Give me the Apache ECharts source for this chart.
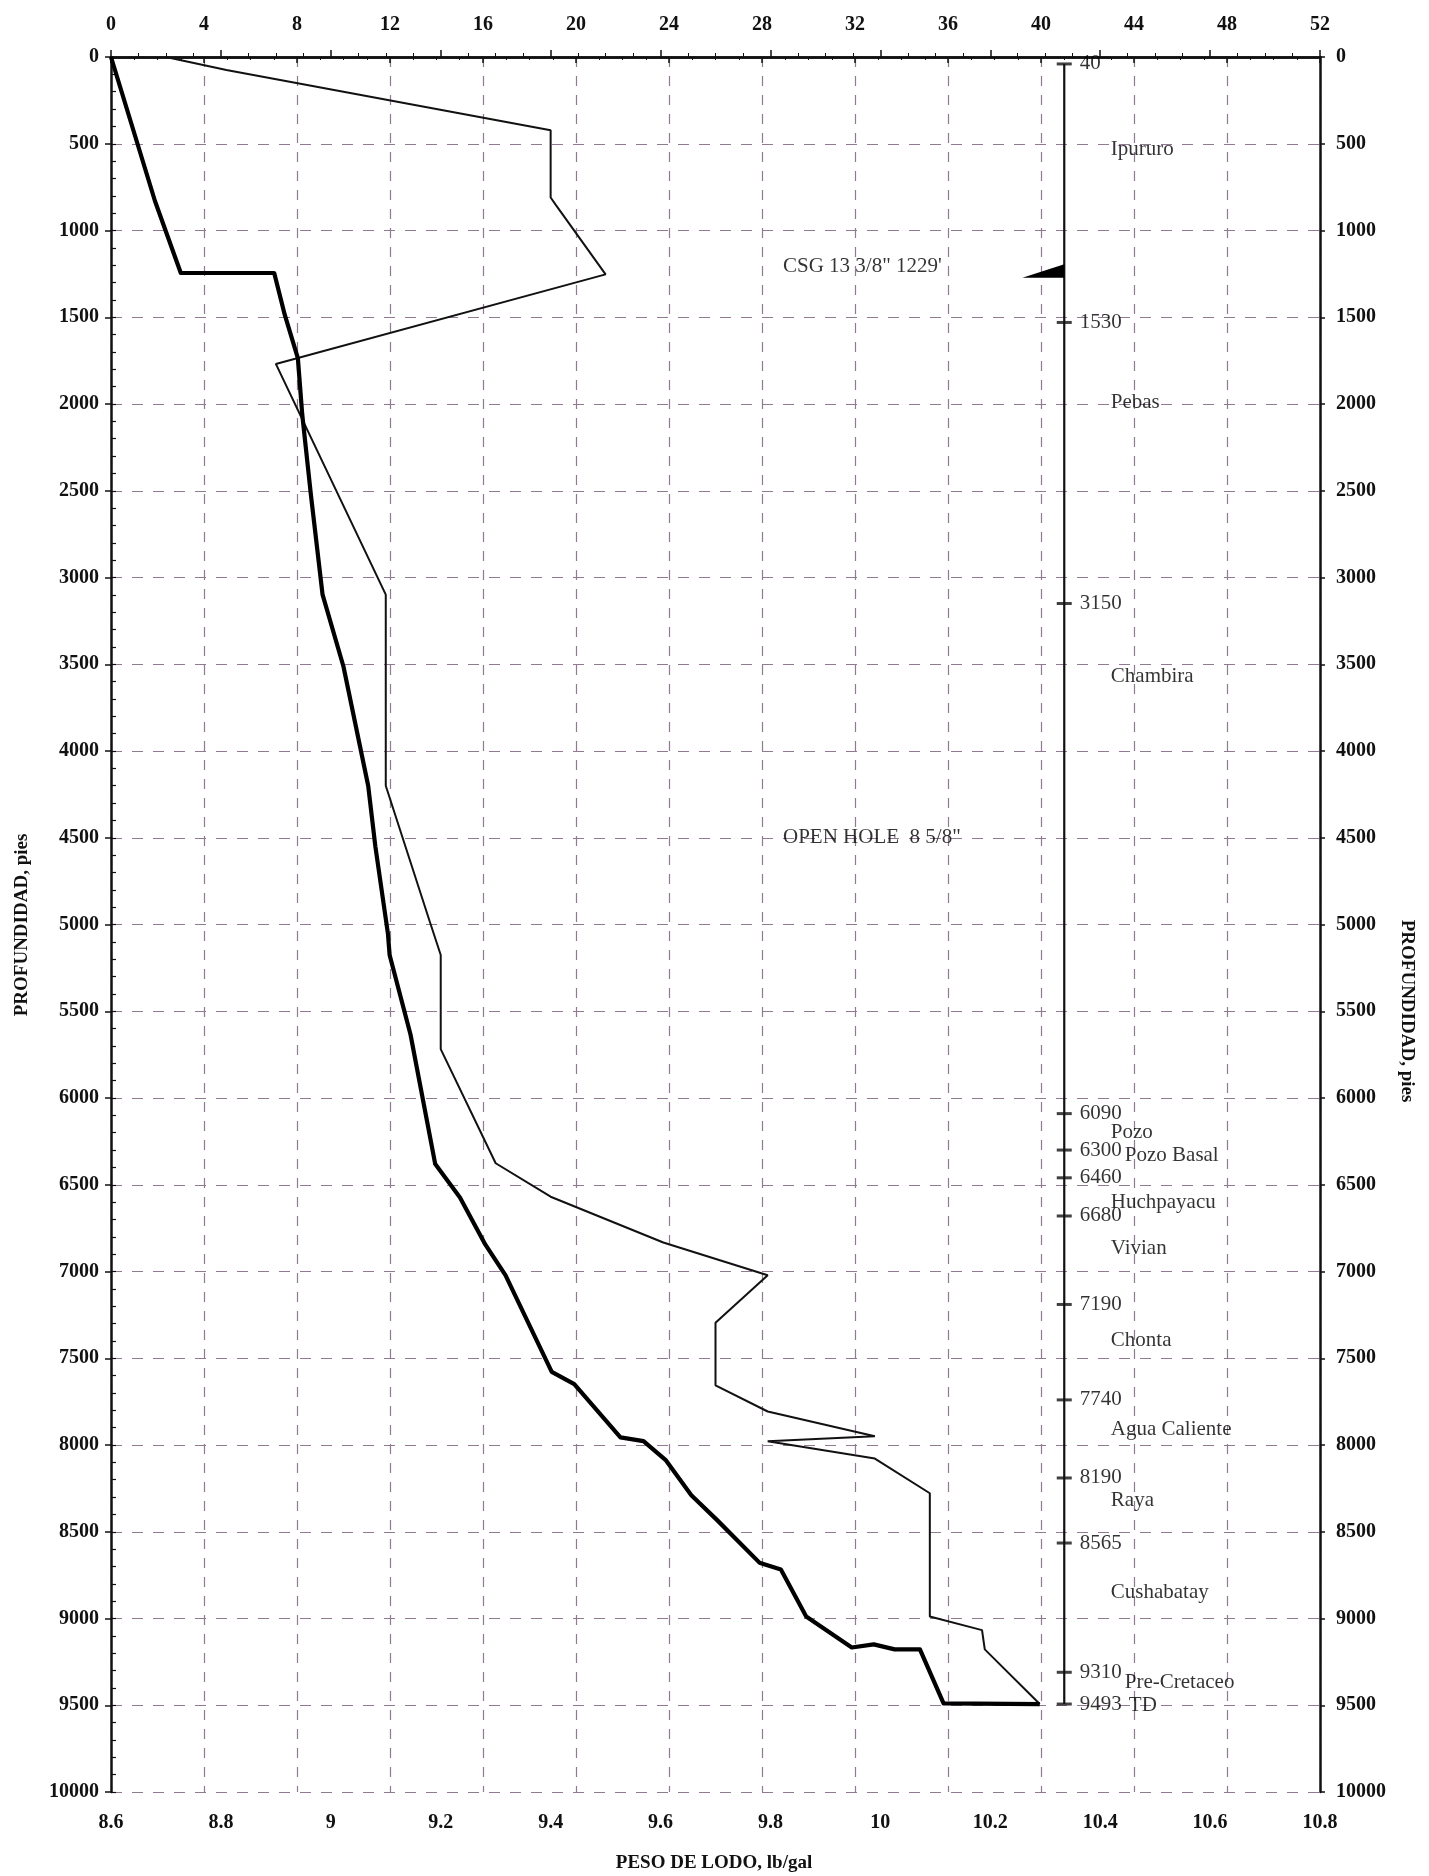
<!DOCTYPE html>
<html>
<head>
<meta charset="utf-8">
<script src="https://cdn.jsdelivr.net/npm/echarts@6/dist/echarts.min.js"></script>
<style>
  html, body { margin: 0; padding: 0; background: #ffffff; }
  #chart { width: 1429px; height: 1876px; }
</style>
</head>
<body>
<div id="chart"></div>
<script>
// ---------------- DATA ----------------
// Axis tick labels
const depthTicks = [0, 500, 1000, 1500, 2000, 2500, 3000, 3500, 4000, 4500, 5000,
                    5500, 6000, 6500, 7000, 7500, 8000, 8500, 9000, 9500, 10000];
const mudWeightTicks = [8.6, 8.8, 9.0, 9.2, 9.4, 9.6, 9.8, 10.0, 10.2, 10.4, 10.6, 10.8];
const topScaleTicks = [0, 4, 8, 12, 16, 20, 24, 28, 32, 36, 40, 44, 48, 52];

// Heavy line (lb/gal vs depth, ft)
const heavyDepth = [0, 830, 1245, 1245, 1484, 1735, 2061, 2530, 3099, 3513, 4200, 4549,
                    5055, 5176, 5634, 6381, 6573, 6844, 7022, 7578, 7649, 7956, 7978,
                    8089, 8289, 8433, 8678, 8718, 8989, 9167, 9149, 9178, 9178, 9489, 9493];
const heavyWeight = [8.60, 8.68, 8.727, 8.897, 8.916, 8.94, 8.948, 8.964, 8.985, 9.023, 9.068, 9.081,
                     9.104, 9.107, 9.145, 9.19, 9.235, 9.281, 9.318, 9.402, 9.443, 9.527, 9.569,
                     9.61, 9.656, 9.703, 9.78, 9.819, 9.865, 9.948, 9.988, 10.026, 10.072, 10.115, 10.29];

// Thin line (lb/gal vs depth, ft)
const thinDepth = [0, 75, 422, 810, 855, 1253, 1769, 3099, 4200, 4983, 5176, 5718, 6376,
                   6569, 6833, 7022, 7296, 7656, 7807, 7949, 7978, 8078, 8278, 8989,
                   9067, 9178, 9493];
const thinWeight = [8.70, 8.81, 9.40, 9.40, 9.41, 9.50, 8.90, 9.10, 9.10, 9.18, 9.20, 9.20, 9.30,
                    9.40, 9.605, 9.795, 9.70, 9.70, 9.795, 9.99, 9.795, 9.99, 10.09, 10.09,
                    10.185, 10.19, 10.29];

// Formation tops (ft) shown on the stratigraphic track
const formationTops = [40, 1530, 3150, 6090, 6300, 6460, 6680, 7190, 7740, 8190, 8565, 9310, 9493];
// Formation names and the depth at which each name is written
const formationNames = ["Ipururo", "Pebas", "Chambira", "Pozo", "Pozo Basal", "Huchpayacu",
                        "Vivian", "Chonta", "Agua Caliente", "Raya", "Cushabatay",
                        "Pre-Cretaceo", "TD"];
const formationNameDepths = [535, 1990, 3570, 6200, 6330, 6600, 6865, 7395, 7912, 8318,
                             8848, 9370, 9500];

// Casing shoe triangle (top-scale units, depth ft)
const casingShoe = [[41, 1195], [41, 1272], [39.2, 1272]];

// Text notes (top-scale units, depth ft)
const noteTexts = ["CSG 13 3/8\" 1229'", "OPEN HOLE  8 5/8\""];
const noteDepths = [1205, 4500];

// ---------------- LAYOUT CONSTANTS ----------------
const TRACK_X = 41;
const NAME_X = 43.0;
const NOTE_X = 28.9;
const SERIF = "'Liberation Serif', 'DejaVu Serif', serif";
const INK = '#111111';
const GRID_COLOR = '#8f7a92';

const chart = echarts.init(document.getElementById('chart'), null, { renderer: 'canvas' });

const axisLabelStyle = { fontFamily: SERIF, fontWeight: 'bold', fontSize: 20, color: INK };
const depthFmt = v => String(v);

const shiftedNames = { 'Pozo Basal': 14, 'Pre-Cretaceo': 14, 'TD': 18 };

const option = {
  backgroundColor: '#ffffff',
  animation: false,
  grid: { left: 111, right: 109, top: 57, bottom: 84, containLabel: false },
  xAxis: [
    {
      type: 'value', position: 'bottom',
      min: mudWeightTicks[0], max: mudWeightTicks[mudWeightTicks.length - 1],
      interval: 0.2,
      axisLine: { show: true, lineStyle: { color: INK, width: 2.5 } },
      axisTick: { show: true, inside: true, length: 7, lineStyle: { color: INK, width: 1.5 } },
      minorTick: { show: true, splitNumber: 4, length: 4, lineStyle: { color: INK, width: 1 } },
      splitLine: { show: false },
      axisLabel: Object.assign({}, axisLabelStyle, {
        margin: 21,
        formatter: v => String(+v.toFixed(1))
      })
    },
    {
      type: 'value', position: 'top',
      min: topScaleTicks[0], max: topScaleTicks[topScaleTicks.length - 1],
      interval: 4,
      axisLine: { show: true, lineStyle: { color: INK, width: 2.5 } },
      axisTick: { show: true, inside: true, length: 6, lineStyle: { color: INK, width: 1.5 } },
      minorTick: { show: true, splitNumber: 4, length: 3, lineStyle: { color: INK, width: 1 } },
      splitLine: { show: true, lineStyle: { color: GRID_COLOR, type: [10, 9], width: 1.2 } },
      axisLabel: Object.assign({}, axisLabelStyle, { margin: 22 })
    }
  ],
  yAxis: [
    {
      type: 'value', position: 'left', inverse: true,
      min: depthTicks[0], max: depthTicks[depthTicks.length - 1], interval: 500,
      axisLine: { show: true, lineStyle: { color: INK, width: 2.5 } },
      axisTick: { show: true, inside: false, length: 6, lineStyle: { color: INK, width: 1.5 } },
      splitLine: { show: true, lineStyle: { color: GRID_COLOR, type: [11, 10], width: 1.2 } },
      axisLabel: Object.assign({}, axisLabelStyle, { margin: 12, formatter: depthFmt })
    },
    {
      type: 'value', position: 'right', inverse: true,
      min: depthTicks[0], max: depthTicks[depthTicks.length - 1], interval: 500,
      axisLine: { show: true, onZero: false, lineStyle: { color: INK, width: 2.5 } },
      axisTick: { show: true, inside: false, length: 5, lineStyle: { color: INK, width: 1.5 } },
      splitLine: { show: false },
      axisLabel: Object.assign({}, axisLabelStyle, { margin: 16, formatter: depthFmt })
    },
    {
      type: 'value', position: 'left', inverse: true,
      min: depthTicks[0], max: depthTicks[depthTicks.length - 1], interval: 100,
      axisLine: { show: false },
      axisTick: { show: true, inside: true, length: 5, lineStyle: { color: INK, width: 1.2 } },
      splitLine: { show: false },
      axisLabel: { show: false }
    }
  ],
  graphic: [
    {
      type: 'text', x: 22, y: 925, rotation: Math.PI / 2,
      style: { text: 'PROFUNDIDAD, pies', font: 'bold 19px ' + SERIF, fill: INK,
               textAlign: 'center', textVerticalAlign: 'middle', align: 'center', verticalAlign: 'middle' }
    },
    {
      type: 'text', x: 1407, y: 1011, rotation: -Math.PI / 2,
      style: { text: 'PROFUNDIDAD, pies', font: 'bold 19px ' + SERIF, fill: INK,
               textAlign: 'center', textVerticalAlign: 'middle', align: 'center', verticalAlign: 'middle' }
    },
    {
      type: 'text', x: 714, y: 1863,
      style: { text: 'PESO DE LODO, lb/gal', font: 'bold 19px ' + SERIF, fill: INK,
               textAlign: 'center', textVerticalAlign: 'middle', align: 'center', verticalAlign: 'middle' }
    }
  ],
  series: [
    {
      name: 'thin', type: 'line', xAxisIndex: 0, yAxisIndex: 0,
      data: thinDepth.map((d, i) => [thinWeight[i], d]),
      showSymbol: false, silent: true, z: 5,
      lineStyle: { color: INK, width: 2 }
    },
    {
      name: 'heavy', type: 'line', xAxisIndex: 0, yAxisIndex: 0,
      data: heavyDepth.map((d, i) => [heavyWeight[i], d]),
      showSymbol: false, silent: true, z: 6,
      lineStyle: { color: '#000', width: 4.2, join: 'round' }
    },
    {
      name: 'track', type: 'line', xAxisIndex: 1, yAxisIndex: 0,
      data: [[TRACK_X, formationTops[0]], [TRACK_X, formationTops[formationTops.length - 1]]],
      showSymbol: false, silent: true, z: 6,
      lineStyle: { color: INK, width: 2.2 }
    },
    {
      name: 'tops', type: 'scatter', xAxisIndex: 1, yAxisIndex: 0,
      data: formationTops.map(d => [TRACK_X, d]),
      symbol: 'rect', symbolSize: [15, 3], silent: true, z: 7,
      itemStyle: { color: INK },
      label: {
        show: true, position: 'right', distance: 8,
        formatter: p => String(p.value[1]),
        fontFamily: SERIF, fontSize: 21, color: '#000'
      }
    },
    {
      name: 'names', type: 'scatter', xAxisIndex: 1, yAxisIndex: 0,
      data: formationNames.map((n, i) => ({
        value: [NAME_X, formationNameDepths[i]], name: n,
        label: { offset: [shiftedNames[n] || 0, 0] }
      })),
      symbolSize: 0.1, silent: true, z: 7,
      itemStyle: { color: 'transparent' },
      label: {
        show: true, position: 'right', distance: 0,
        formatter: p => p.name,
        fontFamily: SERIF, fontSize: 21, color: '#000'
      }
    },
    {
      name: 'notes', type: 'scatter', xAxisIndex: 1, yAxisIndex: 0,
      data: noteTexts.map((t, i) => ({ value: [NOTE_X, noteDepths[i]], name: t })),
      symbolSize: 0.1, silent: true, z: 7,
      itemStyle: { color: 'transparent' },
      label: {
        show: true, position: 'right', distance: 0,
        formatter: p => p.name,
        fontFamily: SERIF, fontSize: 21, color: '#000'
      }
    },
    {
      name: 'casing', type: 'custom', xAxisIndex: 1, yAxisIndex: 0,
      data: [0], silent: true, z: 8,
      renderItem: (params, api) => ({
        type: 'polygon',
        shape: { points: casingShoe.map(p => api.coord(p)) },
        style: { fill: '#000' }
      })
    }
  ]
};

chart.setOption(option);
</script>
</body>
</html>
